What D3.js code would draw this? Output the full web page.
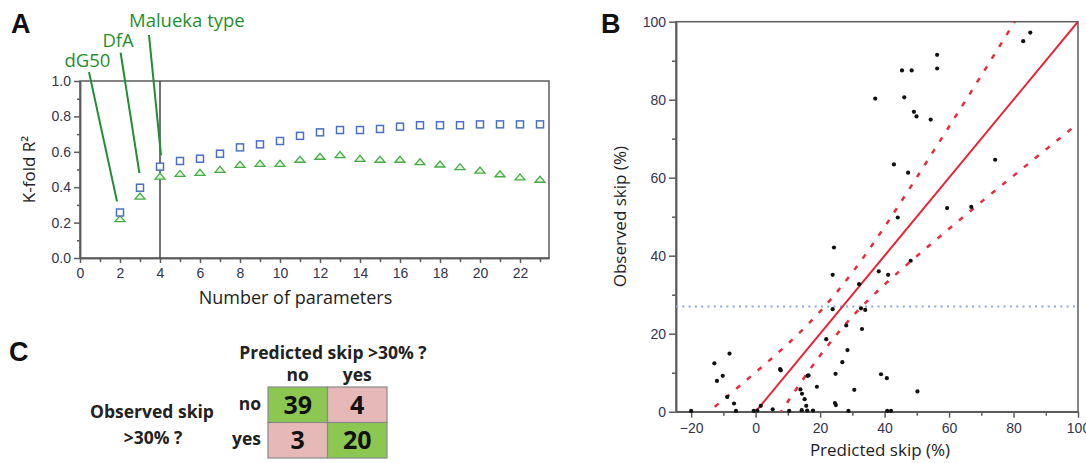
<!DOCTYPE html>
<html>
<head>
<meta charset="utf-8">
<script src="https://cdn.jsdelivr.net/npm/d3@7"></script>
<style>
  body { margin: 0; background: #fff; }
  svg { display: block; }
</style>
</head>
<body>
<svg id="chart" width="1086" height="463"></svg>
<script>
// ---- Panel A data: K-fold R2 vs number of parameters
const nParams = [2, 3, 4, 5, 6, 7, 8, 9, 10, 11, 12, 13, 14, 15, 16, 17, 18, 19, 20, 21, 22, 23];
const squareR2 = [0.257, 0.397, 0.516, 0.548, 0.561, 0.589, 0.625, 0.642, 0.661, 0.69, 0.71, 0.723,
  0.723, 0.729, 0.742, 0.75, 0.75, 0.75, 0.755, 0.755, 0.755, 0.755];
const triangleR2 = [0.222, 0.35, 0.463, 0.478, 0.484, 0.501, 0.529, 0.535, 0.535, 0.558, 0.575, 0.584,
  0.563, 0.558, 0.558, 0.544, 0.531, 0.516, 0.497, 0.476, 0.458, 0.445];
const annotationLabels = ["dG50", "DfA", "Malueka type"];
const chosenParams = 4;

// ---- Panel B data: observed vs predicted skip (%)
const predictedSkip = [85.2, 83.0, 56.3, 56.3, 45.4, 48.4, 37.1, 46.1, 49.1, 49.9, 54.3, 42.9, 47.3, 74.3,
  59.4, 66.9, 44.1, 24.3, 23.9, 48.1, 38.2, 41.1, 32.1, 23.9, 32.7, 34.0, 28.1, 33.0, 21.9, 28.5, 26.9,
  24.8, 16.1, 16.4, 19.0, 13.9, 14.4, 15.2, 15.7, 24.6, 24.9, 30.6, 38.9, 40.7, 50.2, -12.8, -8.1, -12.0,
  -10.2, -8.8, -6.7, -6.1, -20.0, -0.6, 1.6, 5.3, 7.6, 7.8, 10.4, 14.3, 16.0, 17.8, 28.8, 40.8, 42.0, 0.5];
const observedSkip = [97.2, 95.0, 91.5, 88.0, 87.5, 87.5, 80.3, 80.6, 76.9, 75.7, 74.9, 63.4, 61.3, 64.6,
  52.2, 52.5, 49.8, 42.1, 35.1, 38.7, 36.0, 35.1, 32.7, 26.3, 26.5, 26.1, 22.1, 21.2, 18.6, 15.8, 12.7,
  9.7, 9.2, 9.3, 6.4, 5.7, 4.6, 3.2, 1.5, 2.2, 1.7, 5.6, 9.6, 8.6, 5.2, 12.4, 14.9, 7.9, 9.2, 3.8, 2.1,
  0.2, 0.2, 0.2, 1.5, 0.6, 10.9, 10.6, 0.2, 0.4, 0.3, 0.3, 0.2, 0.2, 0.2, 0.3];
const fitX = [0, 100];
const fitY = [0, 100];
const bandX = [-16, -10, 0, 10, 20, 30, 40, 50, 60, 70, 80, 90, 100];
const bandUpper = [-1.0, 3.1, 10.1, 17.4, 25.7, 35.7, 47.4, 60.1, 73.1, 86.2, 99.5, 112.8, 126.1];
const bandLower = [-31.0, -23.1, -10.1, 2.6, 14.4, 24.4, 32.6, 39.9, 46.9, 53.8, 60.5, 67.2, 73.9];
const skipThreshold = 27;

// ---- Panel C data: confusion table
const predictedLabels = ["no", "yes"];
const observedLabels = ["no", "yes"];
const tableCounts = [[39, 4], [3, 20]];

const svg = d3.select("#chart");
const titleFont = "'Open Sans', sans-serif";
const tickFont = "'Liberation Sans', Arial, sans-serif";
const tickColor = "#34344e";
const frameColor = "#5c5c5c";
const green = "#1f8f2f";

function styleAxis(g, size) {
  g.selectAll("path, line").attr("stroke", frameColor).attr("stroke-width", 1.5);
  g.selectAll("text").attr("fill", tickColor).attr("font-family", tickFont).attr("font-size", size || 13);
}

function panelLetter(txt, x, y) {
  svg.append("text").attr("x", x).attr("y", y)
    .attr("font-family", "'Liberation Sans', Arial, sans-serif")
    .attr("font-weight", "bold").attr("font-size", 27).attr("fill", "#111").text(txt);
}

// ================= Panel A =================
const ax = d3.scaleLinear().domain([0, 23.45]).range([80, 549]);
const ay = d3.scaleLinear().domain([0, 1]).range([258, 81]);
const gA = svg.append("g");

gA.append("g").attr("transform", `translate(0,${ay(0)})`)
  .call(d3.axisBottom(ax).tickValues(d3.range(1, 24, 2)).tickSize(4).tickFormat("").tickSizeOuter(0))
  .call(g => styleAxis(g));
gA.append("g").attr("transform", `translate(0,${ay(0)})`)
  .call(d3.axisBottom(ax).tickValues(d3.range(0, 23, 2)).tickSize(5).tickSizeOuter(0).tickPadding(5))
  .call(g => styleAxis(g, 14));
gA.append("g").attr("transform", `translate(${ax(0)},0)`)
  .call(d3.axisLeft(ay).tickValues([0.1, 0.3, 0.5, 0.7, 0.9]).tickSize(3).tickFormat("").tickSizeOuter(0))
  .call(g => styleAxis(g));
gA.append("g").attr("transform", `translate(${ax(0)},0)`)
  .call(d3.axisLeft(ay).tickValues([0, 0.2, 0.4, 0.6, 0.8, 1.0]).tickSize(6).tickSizeOuter(0)
    .tickFormat(d3.format(".1f")).tickPadding(3))
  .call(g => styleAxis(g, 14));

gA.append("rect").attr("x", ax(0)).attr("y", ay(1))
  .attr("width", ax.range()[1] - ax(0)).attr("height", ay(0) - ay(1))
  .attr("fill", "none").attr("stroke", frameColor).attr("stroke-width", 1.5);

gA.append("line").attr("x1", ax(chosenParams)).attr("x2", ax(chosenParams))
  .attr("y1", ay(1)).attr("y2", ay(0)).attr("stroke", "#444").attr("stroke-width", 1.5);

// markers
gA.append("g").selectAll("path").data(nParams).join("path")
  .attr("d", (d, i) => {
    const x = ax(d), y = ay(triangleR2[i]);
    return `M${x - 5},${y + 3}L${x},${y - 3}L${x + 5},${y + 3}Z`;
  })
  .attr("fill", "#e4f3df").attr("stroke", "#46ad46").attr("stroke-width", 1.3);
gA.append("g").selectAll("rect").data(nParams).join("rect")
  .attr("x", d => ax(d) - 3.5).attr("y", (d, i) => ay(squareR2[i]) - 3.5)
  .attr("width", 7).attr("height", 7)
  .attr("fill", "#fff").attr("stroke", "#4a70c6").attr("stroke-width", 1.5);

// annotations (data-unit anchors)
const annoLines = [[[0.45, 1.05], [1.85, 0.32]], [[2.03, 1.16], [2.97, 0.48]], [[3.45, 1.26], [4.05, 0.58]]];
const annoText = [[-0.78, 1.08], [1.12, 1.19], [2.45, 1.305]];
gA.append("g").selectAll("line").data(annoLines).join("line")
  .attr("x1", d => ax(d[0][0])).attr("y1", d => ay(d[0][1]))
  .attr("x2", d => ax(d[1][0])).attr("y2", d => ay(d[1][1]))
  .attr("stroke", green).attr("stroke-width", 2);
gA.append("g").selectAll("text").data(annotationLabels).join("text")
  .attr("x", (d, i) => ax(annoText[i][0])).attr("y", (d, i) => ay(annoText[i][1]))
  .attr("font-family", titleFont).attr("font-size", 18.5).attr("fill", green).text(d => d);

gA.append("text").attr("x", (ax(0) + ax.range()[1]) / 2 - 19).attr("y", 304)
  .attr("text-anchor", "middle").attr("font-family", titleFont).attr("font-size", 18)
  .attr("fill", "#222").text("Number of parameters");
gA.append("text").attr("transform", `translate(35,${(ay(0) + ay(1)) / 2}) rotate(-90)`)
  .attr("text-anchor", "middle").attr("font-family", titleFont).attr("font-size", 17)
  .attr("fill", "#222").text("K-fold R²");

panelLetter("A", 11, 33);

// ================= Panel B =================
const bx = d3.scaleLinear().domain([-24.7, 100]).range([676, 1078]);
const by = d3.scaleLinear().domain([0, 100]).range([411.7, 21.7]);
const gB = svg.append("g");

svg.append("defs").append("clipPath").attr("id", "clipB")
  .append("rect").attr("x", bx(-24.7)).attr("y", by(100))
  .attr("width", bx(100) - bx(-24.7)).attr("height", by(0) - by(100));

gB.append("g").attr("transform", `translate(0,${by(0)})`)
  .call(d3.axisBottom(bx).tickValues([-10, 10, 30, 50, 70, 90]).tickSize(4).tickFormat("").tickSizeOuter(0))
  .call(g => styleAxis(g));
gB.append("g").attr("transform", `translate(0,${by(0)})`)
  .call(d3.axisBottom(bx).tickValues([-20, 0, 20, 40, 60, 80, 100]).tickSize(6).tickSizeOuter(0).tickPadding(5))
  .call(g => styleAxis(g, 14));
gB.append("g").attr("transform", `translate(${bx(-24.7)},0)`)
  .call(d3.axisLeft(by).tickValues([10, 30, 50, 70, 90]).tickSize(4).tickFormat("").tickSizeOuter(0))
  .call(g => styleAxis(g));
gB.append("g").attr("transform", `translate(${bx(-24.7)},0)`)
  .call(d3.axisLeft(by).tickValues([0, 20, 40, 60, 80, 100]).tickSize(7).tickSizeOuter(0).tickPadding(3))
  .call(g => styleAxis(g, 14));

gB.append("rect").attr("x", bx(-24.7)).attr("y", by(100))
  .attr("width", bx(100) - bx(-24.7)).attr("height", by(0) - by(100))
  .attr("fill", "none").attr("stroke", frameColor).attr("stroke-width", 1.5);

const plotB = gB.append("g").attr("clip-path", "url(#clipB)");

plotB.append("line").attr("x1", bx(-24.7)).attr("x2", bx(100))
  .attr("y1", by(skipThreshold)).attr("y2", by(skipThreshold))
  .attr("stroke", "#8ea6e2").attr("stroke-width", 2).attr("stroke-dasharray", "2,4.3");

const bandLine = d3.line().x(d => bx(d[0])).y(d => by(d[1])).curve(d3.curveNatural);
[bandUpper, bandLower].forEach(vals => {
  plotB.append("path").datum(bandX.map((x, i) => [x, vals[i]]))
    .attr("d", bandLine).attr("fill", "none").attr("stroke", "#ec2a3a")
    .attr("stroke-width", 2.5).attr("stroke-dasharray", "5,9");
});
plotB.append("path").datum(fitX.map((x, i) => [x, fitY[i]]))
  .attr("d", d3.line().x(d => bx(d[0])).y(d => by(d[1])))
  .attr("fill", "none").attr("stroke", "#ea2233").attr("stroke-width", 2);

gB.append("g").selectAll("circle").data(predictedSkip).join("circle")
  .attr("cx", d => bx(d)).attr("cy", (d, i) => by(observedSkip[i]))
  .attr("r", 2.1).attr("fill", "#111");

gB.append("text").attr("x", (bx(-24.7) + bx(100)) / 2 + 3).attr("y", 456)
  .attr("text-anchor", "middle").attr("font-family", titleFont).attr("font-size", 17)
  .attr("fill", "#222").text("Predicted skip (%)");
gB.append("text").attr("transform", `translate(626,${(by(0) + by(100)) / 2}) rotate(-90)`)
  .attr("text-anchor", "middle").attr("font-family", titleFont).attr("font-size", 17)
  .attr("fill", "#222").text("Observed skip (%)");

panelLetter("B", 601, 33);

// ================= Panel C =================
const gC = svg.append("g");
const cx = d3.scaleBand().domain(predictedLabels).range([268, 387]);
const cy = d3.scaleBand().domain(observedLabels).range([387, 458]);
const cellColor = (r, c) => (r === c ? "#8cc751" : "#e6b9b8");

tableCounts.forEach((row, r) => {
  row.forEach((v, c) => {
    const x = cx(predictedLabels[c]), y = cy(observedLabels[r]);
    gC.append("rect").attr("x", x).attr("y", y)
      .attr("width", cx.bandwidth()).attr("height", cy.bandwidth())
      .attr("fill", cellColor(r, c)).attr("stroke", "#8a8a8a").attr("stroke-width", 1.2);
    gC.append("text").attr("x", x + cx.bandwidth() / 2).attr("y", y + cy.bandwidth() / 2 + 9)
      .attr("text-anchor", "middle").attr("font-family", titleFont).attr("font-weight", "bold")
      .attr("font-size", 25).attr("fill", "#111").text(v);
  });
});

gC.append("g").selectAll("text").data(predictedLabels).join("text")
  .attr("x", d => cx(d) + cx.bandwidth() / 2).attr("y", 381)
  .attr("text-anchor", "middle").attr("font-family", titleFont).attr("font-weight", "bold")
  .attr("font-size", 17.5).attr("fill", "#222").text(d => d);
gC.append("g").selectAll("text").data(observedLabels).join("text")
  .attr("x", 261).attr("y", d => cy(d) + cy.bandwidth() / 2 + 5)
  .attr("text-anchor", "end").attr("font-family", titleFont).attr("font-weight", "bold")
  .attr("font-size", 17.5).attr("fill", "#222").text(d => d);

gC.append("text").attr("x", 333).attr("y", 359).attr("text-anchor", "middle")
  .attr("font-family", titleFont).attr("font-weight", "bold").attr("font-size", 17.5)
  .attr("fill", "#222").text("Predicted skip >30% ?");
gC.append("text").attr("x", 152).attr("y", 418).attr("text-anchor", "middle")
  .attr("font-family", titleFont).attr("font-weight", "bold").attr("font-size", 17.5)
  .attr("fill", "#222").text("Observed skip");
gC.append("text").attr("x", 153).attr("y", 444).attr("text-anchor", "middle")
  .attr("font-family", titleFont).attr("font-weight", "bold").attr("font-size", 17.5)
  .attr("fill", "#222").text(">30% ?");

panelLetter("C", 9, 361);
</script>
</body>
</html>
